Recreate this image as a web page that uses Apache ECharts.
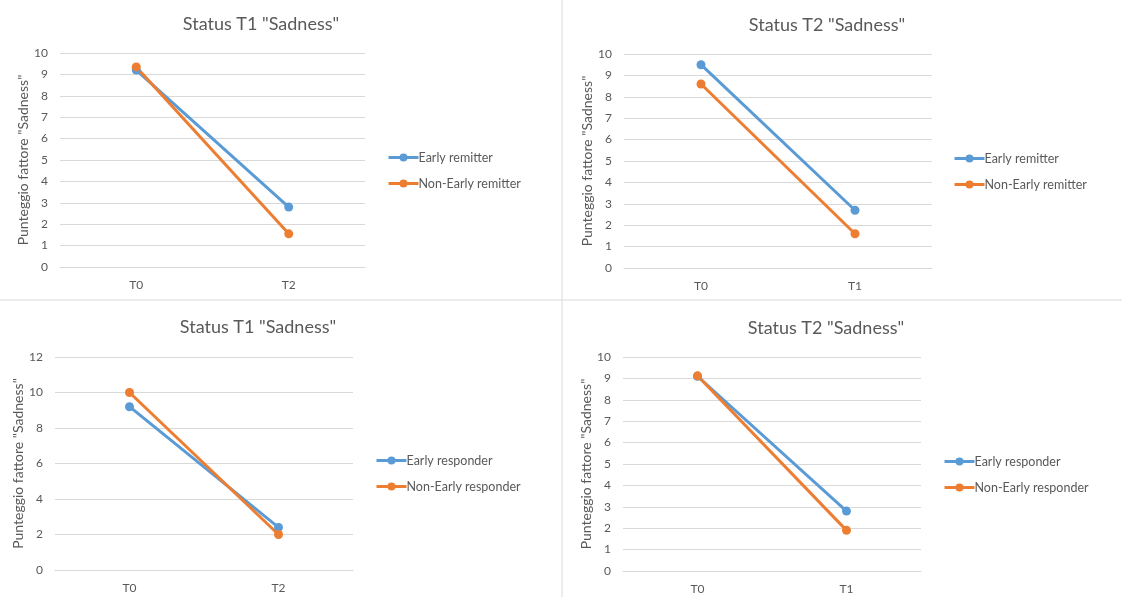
<!DOCTYPE html>
<html><head><meta charset="utf-8">
<script src="https://cdn.jsdelivr.net/npm/echarts@6/dist/echarts.min.js"></script>
<style>html,body{margin:0;padding:0;background:#fff}#c{width:1122px;height:597px}</style>
</head><body><div id="c"></div>
<script>
const titles = ['Status T1 "Sadness"', 'Status T2 "Sadness"', 'Status T1 "Sadness"', 'Status T2 "Sadness"'];
const categories1 = ['T0', 'T2'];
const categories2 = ['T0', 'T1'];
const categories3 = ['T0', 'T2'];
const categories4 = ['T0', 'T1'];
const seriesNames1 = ['Early remitter', 'Non-Early remitter'];
const seriesNames2 = ['Early responder', 'Non-Early responder'];
const p1Early = [9.2, 2.8];
const p1NonEarly = [9.35, 1.55];
const p2Early = [9.5, 2.7];
const p2NonEarly = [8.6, 1.6];
const p3Early = [9.2, 2.4];
const p3NonEarly = [10.0, 2.0];
const p4Early = [9.1, 2.8];
const p4NonEarly = [9.12, 1.9];
const yMax = [10, 10, 12, 10];
const yInterval = [1, 1, 2, 1];
const yName = 'Punteggio fattore "Sadness"';

const FONT = 'Lato, "Liberation Sans", sans-serif';
const TXT = '#595959';
const BLUE = '#5B9BD5', ORANGE = '#ED7D31';

const panels = [
  {cats: categories1, names: seriesNames1, a: p1Early, b: p1NonEarly, grid: {left: 60, top: 53, width: 305, height: 214}, title: [261, 15], legend: [387, 151], gap: 26},
  {cats: categories2, names: seriesNames1, a: p2Early, b: p2NonEarly, grid: {left: 624, top: 54, width: 308, height: 214}, title: [827, 16], legend: [953, 152], gap: 27},
  {cats: categories3, names: seriesNames2, a: p3Early, b: p3NonEarly, grid: {left: 55, top: 357, width: 298, height: 213}, title: [258, 318], legend: [375, 454], gap: 26},
  {cats: categories4, names: seriesNames2, a: p4Early, b: p4NonEarly, grid: {left: 623, top: 357, width: 298, height: 214}, title: [826, 319], legend: [943, 455], gap: 26}
];

const option = {
  backgroundColor: '#fff',
  animation: false,
  textStyle: {fontFamily: FONT},
  title: panels.map((p, i) => ({
    text: titles[i], left: p.title[0], top: p.title[1], textAlign: 'center', padding: 0,
    textStyle: {fontFamily: FONT, fontSize: 18, fontWeight: 'normal', color: TXT}
  })),
  legend: panels.map(p => ({
    data: p.names, orient: 'vertical', left: p.legend[0], top: p.legend[1], padding: 0,
    itemWidth: 30, itemHeight: 10, itemGap: 13, selectedMode: false,
    lineStyle: {width: 3},
    textStyle: {fontFamily: FONT, fontSize: 12.5, color: TXT, padding: [0, 0, 0, -5]}
  })),
  grid: panels.map(p => p.grid),
  xAxis: panels.map((p, i) => ({
    type: 'category', gridIndex: i, data: p.cats, boundaryGap: true,
    axisLine: {lineStyle: {color: '#D9D9D9'}}, axisTick: {show: false},
    axisLabel: {color: TXT, fontSize: 12, fontFamily: FONT, margin: 12}
  })),
  yAxis: panels.map((p, i) => ({
    type: 'value', gridIndex: i, min: 0, max: yMax[i], interval: yInterval[i],
    name: yName, nameLocation: 'middle', nameRotate: 90, nameGap: p.gap,
    nameTextStyle: {color: TXT, fontSize: 14, fontFamily: FONT},
    axisLine: {show: false}, axisTick: {show: false},
    splitLine: {lineStyle: {color: '#D9D9D9'}},
    axisLabel: {color: TXT, fontSize: 12, fontFamily: FONT, margin: 12}
  })),
  series: panels.flatMap((p, i) => [
    {name: p.names[0], type: 'line', xAxisIndex: i, yAxisIndex: i, data: p.a, color: BLUE,
     symbol: 'circle', symbolSize: 9, lineStyle: {width: 3}},
    {name: p.names[1], type: 'line', xAxisIndex: i, yAxisIndex: i, data: p.b, color: ORANGE,
     symbol: 'circle', symbolSize: 9, lineStyle: {width: 3}}
  ]),
  graphic: [
    {type: 'line', shape: {x1: 562, y1: 0, x2: 562, y2: 597}, style: {stroke: '#D9D9D9', lineWidth: 1}},
    {type: 'line', shape: {x1: 0, y1: 300, x2: 1122, y2: 300}, style: {stroke: '#D9D9D9', lineWidth: 1}}
  ]
};
const chart = echarts.init(document.getElementById('c'), null, {renderer: 'canvas'});
chart.setOption(option);
</script></body></html>
